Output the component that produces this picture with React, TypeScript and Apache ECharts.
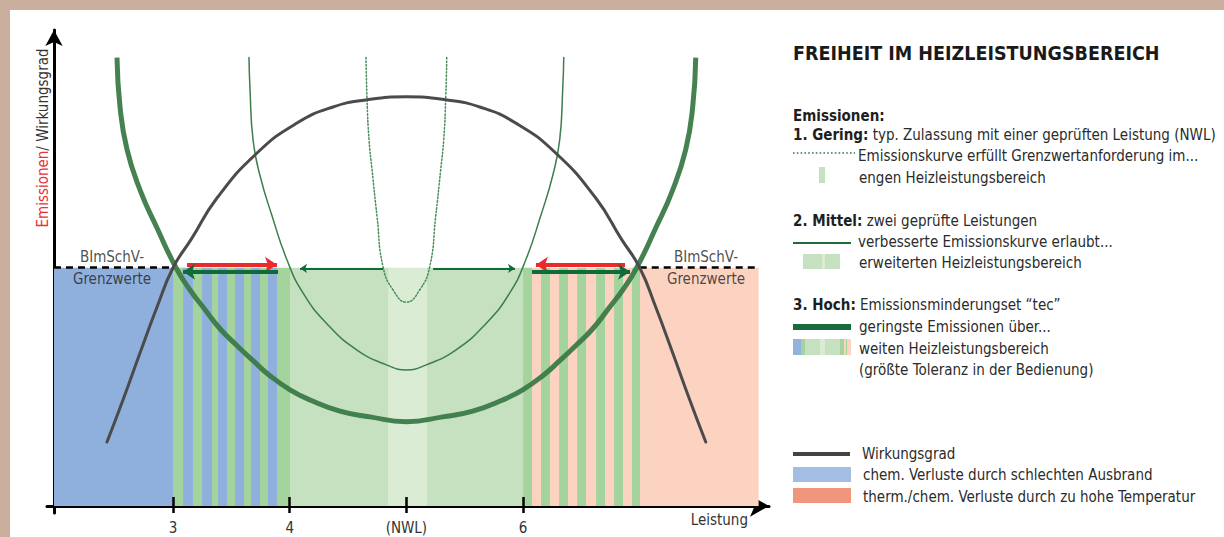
import React, { useEffect, useRef } from "react";
import * as echarts from "echarts";

const FONT = '"Liberation Sans Narrow", "DejaVu Sans Condensed", "Roboto Condensed", Roboto, sans-serif';

// ---- axis / reference values ----
const LIMIT = 49.2; // BImSchV-Grenzwert (emission limit level)
const xTickValues = [3, 4, 5, 6];
const xTickLabels = ["3", "4", "(NWL)", "6"];
const limitSegments = [
  [1.98, 3.0],
  [7.0, 8.014],
];
const limitLabelX = [2.477, 7.568];

// ---- background bands (Leistung ranges) ----
const bandEdges = [
  1.98, 3.0, 3.086, 3.171, 3.249, 3.334, 3.386, 3.463, 3.531, 3.609, 3.669, 3.746, 3.814, 3.891, 4.003,
  4.843, 5.177, 6.0, 6.077, 6.154, 6.231, 6.309, 6.386, 6.463, 6.54, 6.626, 6.703, 6.78, 6.857, 6.934,
  7.003, 8.014,
];
const bandKinds = [
  "blue", "green", "blue", "green", "blue", "green", "blue", "green", "blue", "green", "blue", "green",
  "blue", "green", "light", "lightest", "light", "green", "pink", "green", "pink", "green", "pink",
  "green", "pink", "green", "pink", "green", "pink", "green", "pink",
];
const bandColors: Record<string, string> = {
  blue: "#8fb0dd",
  green: "#a5d39d",
  light: "#c6e1bf",
  lightest: "#daecd4",
  pink: "#fcd3c1",
};

// ---- curves ----
const effX = [2.434, 2.571, 2.717, 2.863, 3.0, 3.154, 3.377, 3.72, 4.063, 4.371, 4.663, 5.0, 5.337, 5.629, 5.937, 6.28, 6.623, 6.846, 7.0, 7.137, 7.283, 7.429, 7.566];
const effY = [13.2, 21.9, 31.6, 41.1, 49.2, 55.0, 63.6, 72.9, 79.1, 82.4, 83.9, 84.5, 83.9, 82.4, 79.1, 72.9, 63.6, 55.0, 49.2, 41.1, 31.6, 21.9, 13.2];

const hochX = [2.52, 2.546, 2.606, 2.717, 2.863, 3.026, 3.146, 3.257, 3.403, 3.549, 3.686, 3.831, 4.003, 4.174, 4.431, 4.689, 5.0, 5.311, 5.569, 5.826, 5.997, 6.169, 6.314, 6.451, 6.597, 6.743, 6.854, 6.974, 7.137, 7.283, 7.394, 7.454, 7.48];
const hochY = [92.6, 82.4, 73.6, 65.3, 57.4, 49.2, 44.6, 41.1, 36.6, 33.1, 30.0, 26.9, 24.0, 21.9, 19.6, 18.4, 17.4, 18.4, 19.6, 21.9, 24.0, 26.9, 30.0, 33.1, 36.6, 41.1, 44.6, 49.2, 57.4, 65.3, 73.6, 82.4, 92.6];

const mittelX = [3.651, 3.66, 3.686, 3.746, 3.849, 3.977, 4.114, 4.32, 4.577, 4.834, 5.0, 5.166, 5.423, 5.68, 5.886, 6.023, 6.151, 6.254, 6.314, 6.34, 6.349];
const mittelY = [92.6, 86.0, 75.6, 68.2, 59.9, 50.8, 44.0, 37.6, 32.2, 29.1, 28.1, 29.1, 32.2, 37.6, 44.0, 50.8, 59.9, 68.2, 75.6, 86.0, 92.6];

const geringX = [4.654, 4.663, 4.68, 4.706, 4.749, 4.8, 4.886, 5.0, 5.114, 5.2, 5.251, 5.294, 5.32, 5.337, 5.346];
const geringY = [92.6, 83.9, 75.6, 69.4, 59.7, 49.4, 44.6, 42.1, 44.6, 49.4, 59.7, 69.4, 75.6, 83.9, 92.6];

// ---- arrows: [fromX, toX, y] ----
const redArrows = [
  [3.12, 3.891, 49.8],
  [6.874, 6.111, 49.8],
];
const greenArrows = [
  [3.9, 3.086, 48.35],
  [6.077, 6.917, 48.35],
];
const thinArrows = [
  [4.8, 4.089, 49.07],
  [5.229, 5.931, 49.07],
];

const pairs = (xs: number[], ys: number[]) => xs.map((x, i) => [x, ys[i]]);
const arrowData = (arr: number[][]) => arr.map((a) => ({ coords: [[a[0], a[2]], [a[1], a[2]]] }));

const TXT = "#2b2b2b";
const richStyles = {
  b: { fontWeight: "bold", fill: "#1e1e1e", fontSize: 15, fontFamily: FONT },
  n: { fill: TXT, fontSize: 15, fontFamily: FONT },
};
const txt = (x: number, y: number, text: string, extra: any = {}) => ({
  type: "text",
  x,
  y,
  silent: true,
  style: { text, fill: TXT, fontSize: 15, fontFamily: FONT, align: "left", verticalAlign: "middle", rich: richStyles, ...extra },
});
const rect = (x: number, y: number, w: number, h: number, fill: string) => ({
  type: "rect",
  silent: true,
  shape: { x, y, width: w, height: h },
  style: { fill },
});
const hline = (x1: number, x2: number, y: number, stroke: string, lineWidth: number, lineDash?: number[]) => ({
  type: "line",
  silent: true,
  shape: { x1, y1: y, x2, y2: y },
  style: { stroke, lineWidth, lineDash },
});

const graphics: any[] = [
  // frame
  rect(0, 0, 1224, 10, "#cbaf9e"),
  rect(0, 0, 10, 537, "#cbaf9e"),
  // y axis title
  {
    type: "text",
    x: 43,
    y: 138,
    rotation: Math.PI / 2,
    silent: true,
    style: {
      text: "{r|Emissionen}{k|/ Wirkungsgrad}",
      align: "center",
      verticalAlign: "middle",
      rich: {
        r: { fill: "#e8333a", fontSize: 15, fontFamily: FONT },
        k: { fill: "#333", fontSize: 15, fontFamily: FONT },
      },
    },
  },
  // title
  txt(793, 53, "FREIHEIT IM HEIZLEISTUNGSBEREICH", { fontSize: 19.5, fontWeight: "bold", fill: "#1a1a1a" }),
  txt(793, 116, "Emissionen:", { fontWeight: "bold", fill: "#1e1e1e" }),
  txt(793, 135, "{b|1. Gering:}{n| typ. Zulassung mit einer geprüften Leistung (NWL)}"),
  hline(793, 855, 153, "#2f7a45", 1.6, [1.6, 2.2]),
  txt(858, 156, "Emissionskurve erfüllt Grenzwertanforderung im..."),
  rect(819, 167, 6, 16, "#c6e1bf"),
  txt(859, 178, "engen Heizleistungsbereich"),
  txt(793, 221, "{b|2. Mittel:}{n| zwei geprüfte Leistungen}"),
  hline(793, 851, 243, "#1f6b3a", 2),
  txt(858, 242, "verbesserte Emissionskurve erlaubt..."),
  rect(803, 254, 19, 15, "#c6e1bf"),
  rect(822, 254, 3, 15, "#daecd4"),
  rect(825, 254, 15, 15, "#c6e1bf"),
  txt(859, 263, "erweiterten Heizleistungsbereich"),
  txt(793, 305, "{b|3. Hoch:}{n| Emissionsminderungset “tec”}"),
  hline(793, 851, 327, "#1a6b3c", 6),
  txt(859, 327, "geringste Emissionen über..."),
  rect(793, 339, 8, 16, "#93b3dc"),
  rect(801, 339, 4, 16, "#a5d39d"),
  rect(805, 339, 15, 16, "#c6e1bf"),
  rect(820, 339, 5, 16, "#daecd4"),
  rect(825, 339, 15, 16, "#c6e1bf"),
  rect(840, 339, 4, 16, "#a5d39d"),
  rect(844, 339, 2, 16, "#fcd3c1"),
  rect(846, 339, 1.5, 16, "#a5d39d"),
  rect(847.5, 339, 3.5, 16, "#fcd3c1"),
  txt(859, 349, "weiten Heizleistungsbereich"),
  txt(859, 370, "(größte Toleranz in der Bedienung)"),
  hline(793, 850, 454, "#444444", 4),
  txt(862, 454, "Wirkungsgrad"),
  rect(793, 467, 58, 15, "#a3bde3"),
  txt(863, 475, "chem. Verluste durch schlechten Ausbrand"),
  rect(793, 488, 58, 15, "#f0967c"),
  txt(863, 497, "therm./chem. Verluste durch zu hohe Temperatur"),
];

const lineSeries = (name: string, xs: number[], ys: number[], color: string, width: number, type: any = "solid", extra: any = {}) => ({
  type: "line",
  name,
  data: pairs(xs, ys),
  showSymbol: false,
  symbol: "none",
  smooth: 0.5,
  silent: true,
  z: 5,
  lineStyle: { color, width, type, cap: "round" },
  ...extra,
});

const option: any = {
  animation: false,
  backgroundColor: "#ffffff",
  grid: { left: 47, right: 455, top: 30, bottom: 24, containLabel: false, outerBoundsMode: "none" },
  xAxis: {
    type: "value",
    min: 1.92,
    max: 8.108,
    axisLine: {
      show: true,
      onZero: true,
      symbol: ["none", "arrow"],
      symbolSize: [16, 19],
      lineStyle: { color: "#000", width: 3 },
    },
    axisTick: { show: false },
    splitLine: { show: false },
    axisLabel: {
      show: true,
      customValues: xTickValues,
      formatter: (v: number) => xTickLabels[xTickValues.indexOf(v)] ?? "",
      color: "#333",
      fontSize: 15,
      fontFamily: FONT,
      margin: 7,
    },
    name: "Leistung",
    nameLocation: "end",
    nameGap: -21,
    nameMoveOverlap: false,
    nameTextStyle: { color: "#333", fontSize: 15, fontFamily: FONT, align: "right", verticalAlign: "top", padding: [7, 0, 0, 0] },
  },
  yAxis: {
    type: "value",
    min: -1.45,
    max: 98.3,
    offset: -7,
    axisLine: {
      show: true,
      onZero: false,
      symbol: ["none", "arrow"],
      symbolSize: [13, 16],
      lineStyle: { color: "#000", width: 3 },
    },
    axisTick: { show: false },
    axisLabel: { show: false },
    splitLine: { show: false },
  },
  graphic: graphics,
  series: [
    {
      type: "custom",
      name: "bands",
      silent: true,
      z: 1,
      clip: false,
      encode: { x: [0, 1], y: 2 },
      data: bandKinds.map((k, i) => [bandEdges[i], bandEdges[i + 1], 0]),
      renderItem: (params: any, api: any) => {
        const i = params.dataIndex;
        const a = api.coord([api.value(0), LIMIT]);
        const b = api.coord([api.value(1), 0]);
        return {
          type: "rect",
          shape: { x: a[0], y: a[1], width: b[0] - a[0] + 0.6, height: b[1] - a[1] },
          style: { fill: bandColors[bandKinds[i]] },
        };
      },
    },
    lineSeries("Emissionen Gering", geringX, geringY, "#4a8c5a", 1.5, [1.5, 2]),
    lineSeries("Emissionen Mittel", mittelX, mittelY, "#3e7d4c", 1.5),
    lineSeries("Emissionen Hoch", hochX, hochY, "#3b7a48", 5, "solid", { lineStyle: { color: "#3b7a48", width: 5, opacity: 0.95 } }),
    lineSeries("Wirkungsgrad", effX, effY, "#4b4b4b", 3, "solid", {
      markLine: {
        silent: true,
        symbol: ["none", "none"],
        label: { show: false },
        lineStyle: { color: "#000", width: 2.5, type: "solid" },
        data: xTickValues.map((v) => [{ coord: [v, -1.45] }, { coord: [v, 1.86] }]),
      },
    }),
    {
      type: "lines",
      name: "limit",
      coordinateSystem: "cartesian2d",
      silent: true,
      z: 4,
      symbol: ["none", "none"],
      lineStyle: { color: "#000", width: 2.5, type: [7, 5], opacity: 1 },
      data: limitSegments.map((s) => ({ coords: [[s[0], LIMIT], [s[1], LIMIT]] })),
    },
    {
      type: "lines",
      name: "redArrows",
      coordinateSystem: "cartesian2d",
      silent: true,
      z: 6,
      symbol: ["none", "arrow"],
      symbolSize: 12,
      lineStyle: { color: "#ec2a2c", width: 4, opacity: 1 },
      data: arrowData(redArrows),
    },
    {
      type: "lines",
      name: "greenArrows",
      coordinateSystem: "cartesian2d",
      silent: true,
      z: 6,
      symbol: ["none", "arrow"],
      symbolSize: 12,
      lineStyle: { color: "#0f6b3a", width: 4, opacity: 1 },
      data: arrowData(greenArrows),
    },
    {
      type: "lines",
      name: "thinArrows",
      coordinateSystem: "cartesian2d",
      silent: true,
      z: 6,
      symbol: ["none", "arrow"],
      symbolSize: 7,
      lineStyle: { color: "#0f6b3a", width: 2, opacity: 1 },
      data: arrowData(thinArrows),
    },
    {
      type: "scatter",
      name: "limitLabels",
      silent: true,
      z: 7,
      symbolSize: 0,
      data: limitLabelX.map((x) => [x, LIMIT]),
      label: {
        show: true,
        position: "inside",
        formatter: "BImSchV-\nGrenzwerte",
        color: "#222",
        fontSize: 15,
        lineHeight: 22,
        fontFamily: FONT,
      },
    },
  ],
};

export default function App() {
  const ref = useRef<HTMLDivElement>(null);
  useEffect(() => {
    const chart = echarts.init(ref.current as HTMLDivElement, null, { renderer: "svg" });
    chart.setOption(option);
    return () => chart.dispose();
  }, []);
  return (
    <div
      ref={ref}
      style={{ position: "fixed", left: 0, top: 0, width: 1224, height: 537, background: "#fff" }}
    />
  );
}
